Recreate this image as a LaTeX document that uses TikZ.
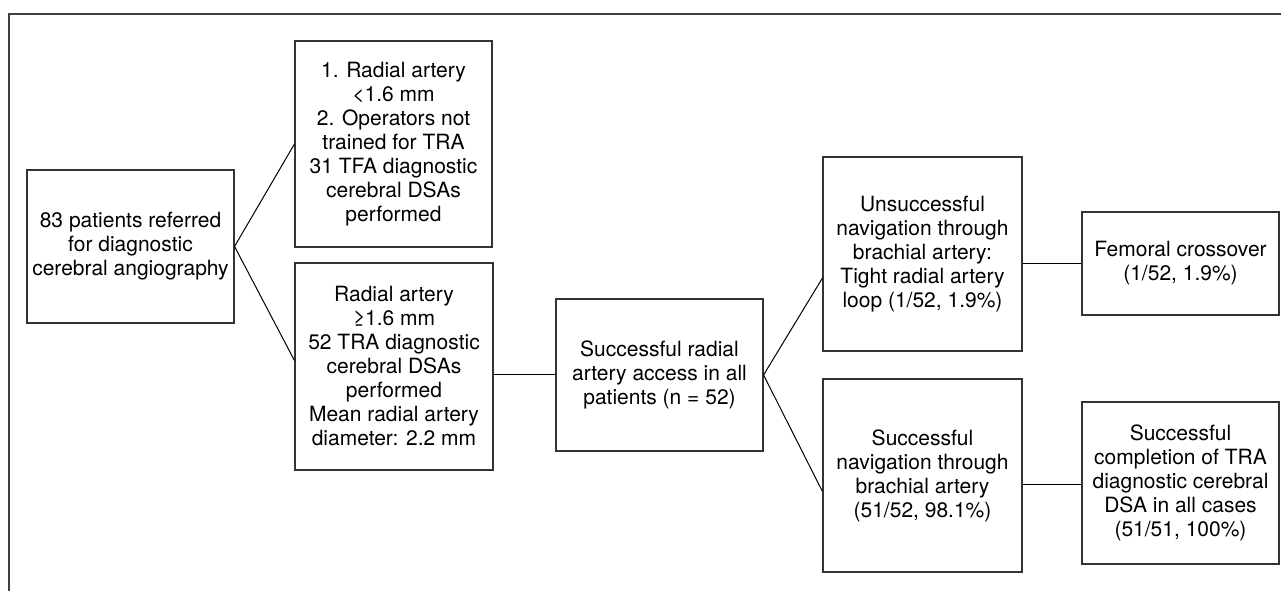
\documentclass[tikz,border=0pt]{standalone}
\usepackage{fontspec}
\setmainfont{TeX Gyre Heros}
\usetikzlibrary{positioning,calc}

\begin{document}
\begin{tikzpicture}[x=1pt,y=1pt,
  stage/.style={draw=black!80,line width=1.1pt,align=center,inner sep=0pt,
    font=\fontsize{21}{24}\selectfont},
  every path/.style={line width=1pt}]
\useasboundingbox (0,0) rectangle (1281,591);
\draw[line width=1.3pt,black!75] (9,0) -- (9,577) -- (1281,577);
\coordinate (c1) at (130.5,344.5);
\coordinate (c2) at (393.5,447);
\coordinate (c3) at (394,224.5);
\coordinate (c4) at (659.5,216);
\coordinate (c5) at (922.5,337);
\coordinate (c6) at (1180.5,327.5);
\coordinate (c7) at (922.5,115.5);
\coordinate (c8) at (1180.5,108);
\node[stage,minimum width=207,minimum height=153] (ref) at (c1)
  {83 patients referred\\for diagnostic\\cerebral angiography};
\node[stage,minimum width=197,minimum height=206] (tfa) at (c2)
  {1. Radial artery\\<1.6 mm\\2. Operators not\\trained for TRA\\31 TFA diagnostic\\cerebral DSAs\\performed};
\node[stage,minimum width=198,minimum height=207] (tra) at (c3)
  {Radial artery\\≥1.6 mm\\52 TRA diagnostic\\cerebral DSAs\\performed\\Mean radial artery\\diameter: 2.2 mm};
\node[stage,minimum width=207,minimum height=152] (access) at (c4)
  {Successful radial\\artery access in all\\patients (n = 52)};
\node[stage,minimum width=199,minimum height=194] (fail) at (c5)
  {Unsuccessful\\navigation through\\brachial artery:\\Tight radial artery\\loop (1/52, 1.9\%)};
\node[stage,minimum width=197,minimum height=103] (cross) at (c6)
  {Femoral crossover\\(1/52, 1.9\%)};
\node[stage,minimum width=199,minimum height=193] (nav) at (c7)
  {Successful\\navigation through\\brachial artery\\(51/52, 98.1\%)};
\node[stage,minimum width=197,minimum height=162] (done) at (c8)
  {Successful\\completion of TRA\\diagnostic cerebral\\DSA in all cases\\(51/51, 100\%)};
\draw (ref.east) -- (tfa.west);
\draw (ref.east) -- ([yshift=6]tra.west);
\draw (access.west) -- (access.west -| tra.east);
\draw (access.east) -- ([yshift=-24]fail.west);
\draw (access.east) -- ([yshift=-16]nav.west);
\draw (cross.west) -- (cross.west -| fail.east);
\draw ([yshift=-2]done.west) -- ([yshift=-2]done.west -| nav.east);
\end{tikzpicture}
\end{document}
